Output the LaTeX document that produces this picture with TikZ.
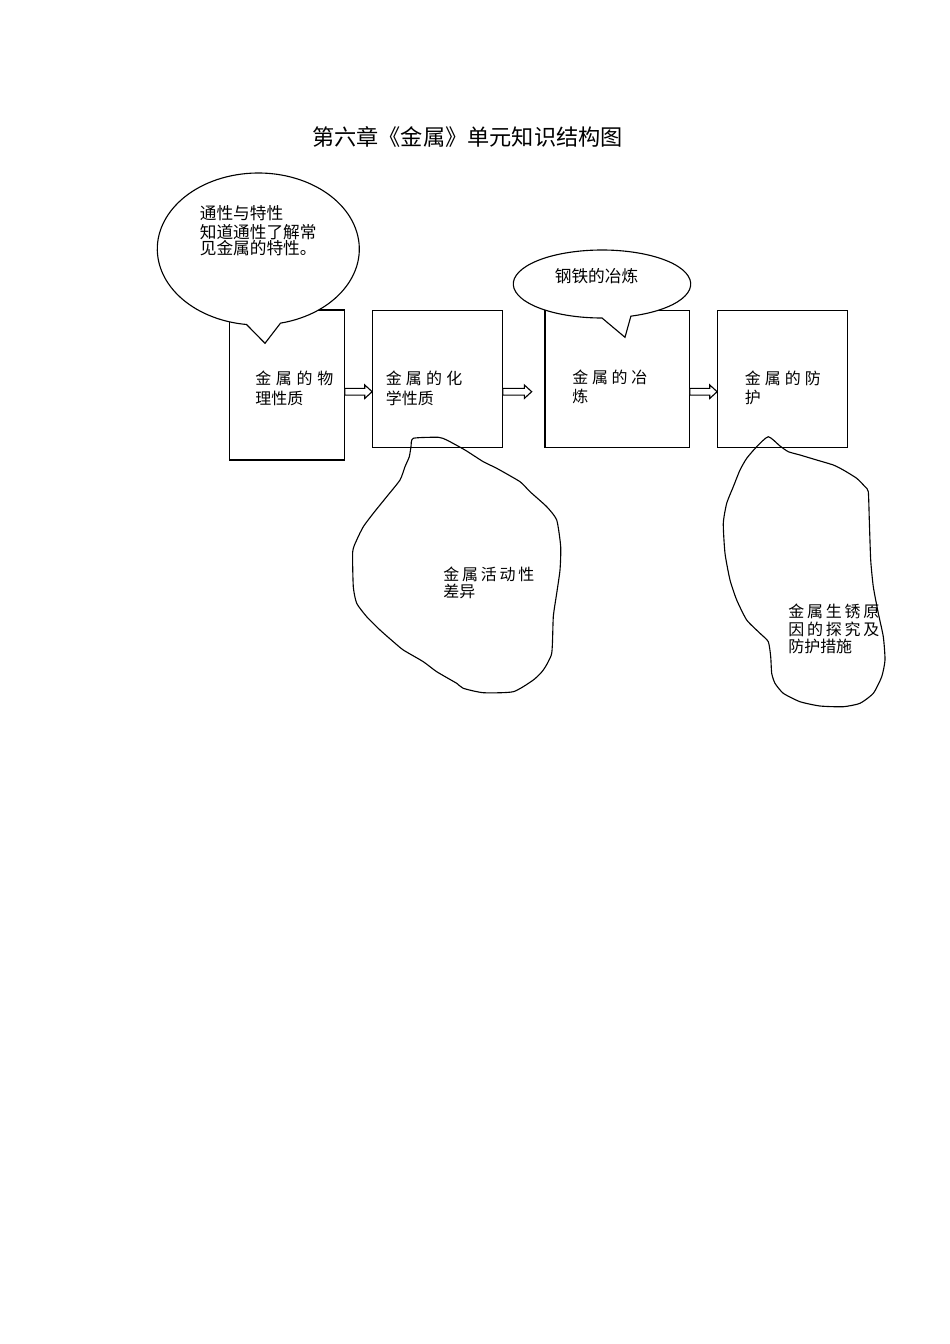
\documentclass[tikz,border=0pt]{standalone}
\usepackage{fontspec}
\newfontfamily\cjk{Noto Sans CJK SC}
\usetikzlibrary{calc}
\tikzset{
  boxs/.style={draw, line width=0.7pt, inner sep=0pt, fill=white},
  callout/.style={draw, line width=0.7pt, fill=white},
  blob/.style={draw, line width=0.7pt},
  blk/.style={draw, line width=0.7pt, fill=white},
  txt/.style={inner sep=0pt, anchor=west, font=\cjk\fontsize{10}{12}\selectfont},
  ctxt/.style={inner sep=0pt, anchor=west, font=\cjk\fontsize{10.45}{12}\selectfont},
  ttl/.style={inner sep=0pt, anchor=center, font=\cjk\fontsize{13.9}{16}\selectfont}
}
\newcommand{\blkarrow}[2]{\draw[blk] let \p1=#1, \p2=#2 in
  (\x1,\y1+2.1pt) -- (\x2-4.6pt,\y1+2.1pt) -- (\x2-4.6pt,\y1+4.2pt) -- (\x2,\y1)
  -- (\x2-4.6pt,\y1-4.2pt) -- (\x2-4.6pt,\y1-2.1pt) -- (\x1,\y1-2.1pt) -- cycle;}
\begin{document}
\begin{tikzpicture}[x=0.6263pt,y=-0.6263pt]
\useasboundingbox[fill=white] (0,0) rectangle (950,1344);

% title
\node[ttl] (title) at (467.5,136.7) {第六章《金属》单元知识结构图};

% boxes
\node[boxs, minimum width=72.02pt, minimum height=93.95pt] (b1) at (286.8,385) {};
\node[boxs, minimum width=81.17pt, minimum height=85.68pt] (b2) at (437.5,378.9) {};
\node[boxs, minimum width=90.38pt, minimum height=85.55pt] (b3) at (617.2,379) {};
\node[boxs, minimum width=81.17pt, minimum height=85.55pt] (b4) at (782.5,379) {};

% callouts
\coordinate (c1) at (258.3,249);
\draw[callout] ($(c1)+(77.3:101 and 76)$) arc[start angle=77.3, end angle=-263.3, x radius=101, y radius=76] -- (265,343.3) -- cycle;
\coordinate (c2) at (602,284);
\draw[callout] ($(c2)+(71:88.7 and 34)$) arc[start angle=71, end angle=-270, x radius=88.7, y radius=34] -- (625,337.3) -- cycle;

% arrows
\coordinate (ay) at (0,391.7);
\coordinate (a2e) at (531.7,391.7);
\blkarrow{(b1.east|-ay)}{(b2.west|-ay)}
\blkarrow{(b2.east|-ay)}{(a2e)}
\blkarrow{(b3.east|-ay)}{(b4.west|-ay)}

% blobs
\draw[blob] plot[smooth cycle, tension=0.35] coordinates {
(413.3,438.3) (438.3,437.3) (446.7,440) (465,450) (483.3,461.7) (496.7,468.3) (520,481.7) (530,491.7) (546.7,506.7) (556.7,520) (560.7,546.7) (560,570) (556.7,593.3) (553.3,616.7) (551.7,653.3) (543.3,670) (533.3,680) (513.3,691.7) (483.3,692.7) (463.3,688.3) (456.7,683.3) (436.7,671.7) (423.3,661.7) (403.3,650) (393.3,641.7) (380,630) (366.7,616.7) (356.7,603.3) (353.3,586.7) (352.7,551.7) (356.7,540) (363.3,526.7) (373.3,513.3) (386.7,496.7) (400,480) (405,466.7) (409.3,456.7) (411,446.7)};
\draw[blob] plot[smooth cycle, tension=0.35] coordinates {
(768.3,436.7) (780,446) (788.3,451.7) (800,455) (816.7,460) (833.3,465) (843.3,470) (856.7,478.3) (865,486.7) (868.3,491.7) (869.3,520) (870.7,560) (873.3,586.7) (878.3,613.3) (883.3,636.7) (885,660) (881.7,676.7) (873.3,693.3) (860,703.3) (843.3,706.7) (820,706) (800,701.7) (783.3,693.3) (775,683.3) (771.7,673.3) (770.7,656.7) (768.3,641.7) (760,633.3) (746.7,620) (736.7,600) (730,580) (725,553.3) (723.3,523.3) (726.7,503.3) (733.3,486.7) (740,470) (746.7,458.3) (756.7,446.7)};

% callout texts
\node[ctxt] (k1a) at (199.5,213.3) {通性与特性};
\node[ctxt] (k1b) at (199.5,231.7) {知道通性了解常};
\node[ctxt] (k1c) at (199.5,248.3) {见金属的特性。};
\node[ctxt] (k2a) at (554.5,276) {钢铁的冶炼};

% box texts
\node[txt] (t1a) at (255,378.3) {\makebox[48.85pt][s]{金\hfill 属\hfill 的\hfill 物}};
\node[txt] (t1b) at (255,398.3) {理性质};
\node[txt] (t2a) at (385.5,378) {\makebox[47.9pt][s]{金\hfill 属\hfill 的\hfill 化}};
\node[txt] (t2b) at (385.5,398) {学性质};
\node[txt] (t3a) at (572,377.7) {\makebox[47.0pt][s]{金\hfill 属\hfill 的\hfill 冶}};
\node[txt] (t3b) at (572,396.7) {炼};
\node[txt] (t4a) at (744.5,378) {\makebox[47.6pt][s]{金\hfill 属\hfill 的\hfill 防}};
\node[txt] (t4b) at (744.5,397) {护};

% blob texts
\node[txt] (u1a) at (443,574) {\makebox[57pt][s]{金\hfill 属\hfill 活\hfill 动\hfill 性}};
\node[txt] (u1b) at (443,591.7) {差异};
\node[txt] (u2a) at (788,611.7) {\makebox[57pt][s]{金\hfill 属\hfill 生\hfill 锈\hfill 原}};
\node[txt] (u2b) at (788,629.3) {\makebox[57pt][s]{因\hfill 的\hfill 探\hfill 究\hfill 及}};
\node[txt] (u2c) at (788,646.7) {防护措施};
\end{tikzpicture}
\end{document}
